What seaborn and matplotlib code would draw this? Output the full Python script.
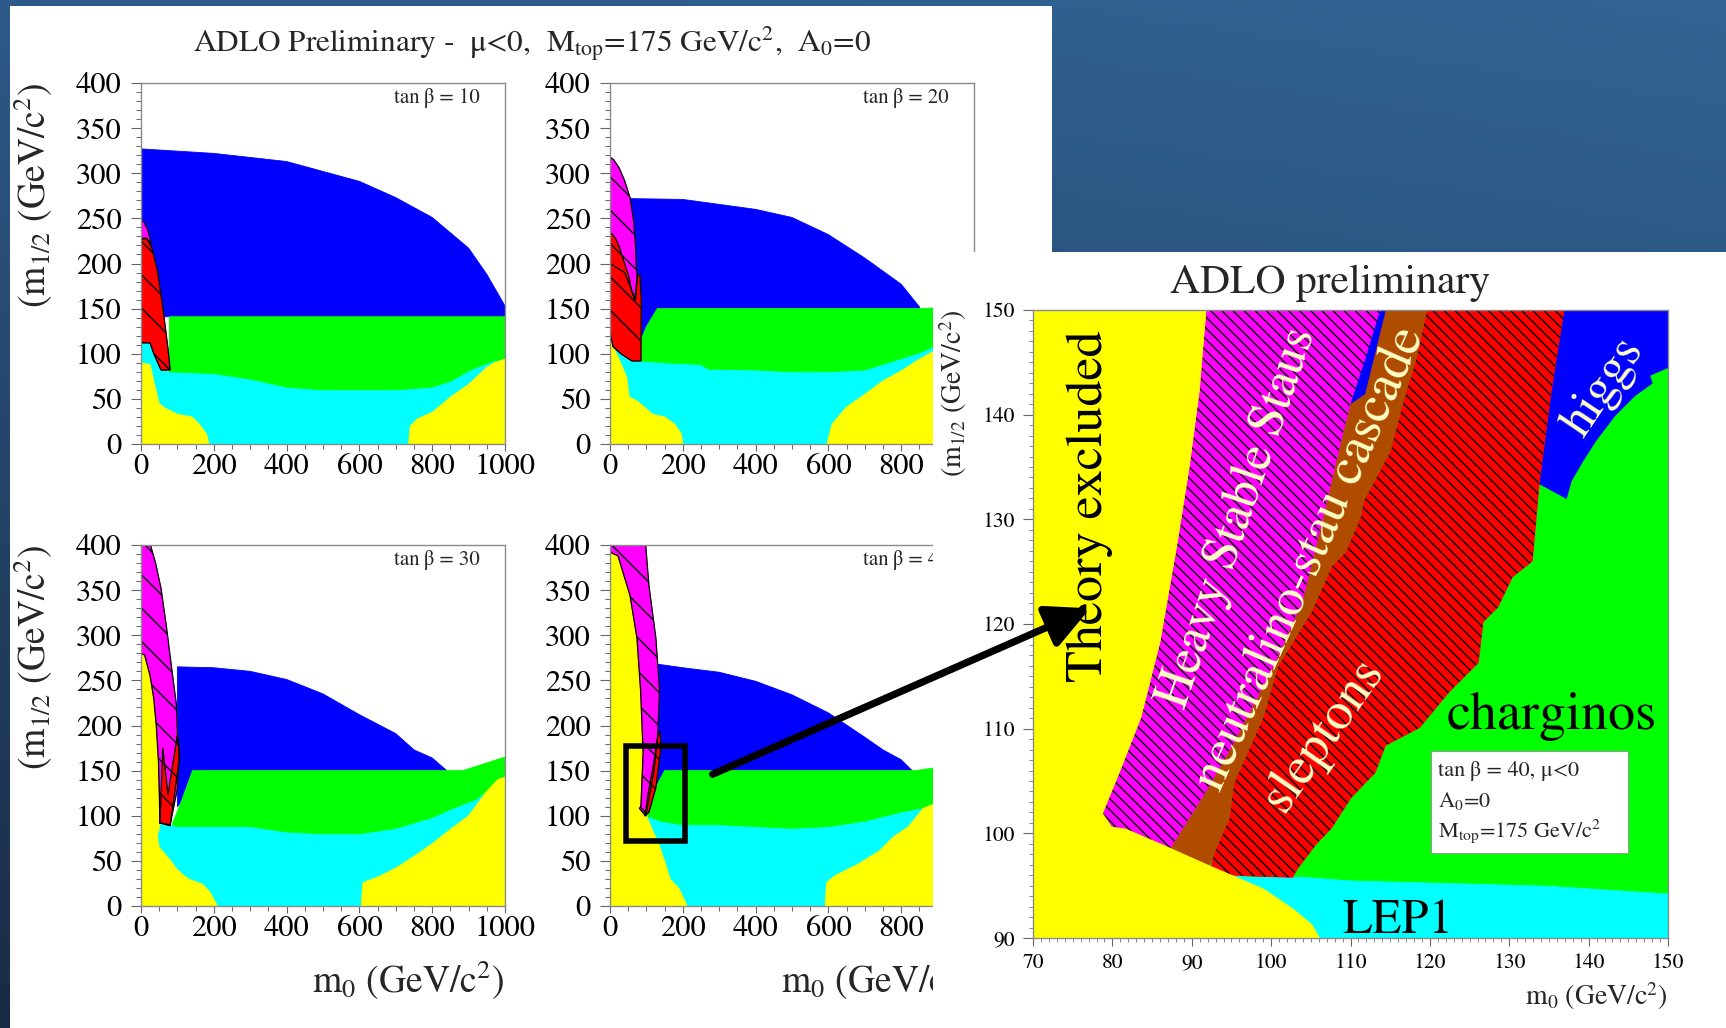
import numpy as np
import matplotlib
matplotlib.use("Agg")
import matplotlib.pyplot as plt
import seaborn as sns
from matplotlib.patches import Polygon, Rectangle, ConnectionPatch
from matplotlib.ticker import MultipleLocator

# ---------------------------------------------------------------------------
# Excluded regions in the (m0, m1/2) plane, GeV/c^2, one list per region
# ---------------------------------------------------------------------------
# tan(beta) = 10
t10_blue = [(0, 327), (200, 322), (400, 313), (600, 291), (700, 273), (800, 251),
            (900, 217), (950, 188), (1000, 153), (1000, 141), (0, 141)]
t10_green = [(78, 141), (1000, 141), (1000, 94), (968, 92), (900, 81), (853, 70),
             (800, 63), (700, 60), (600, 60), (500, 60), (400, 63), (300, 72),
             (200, 78), (78, 80)]
t10_cyan = [(0, 0), (1000, 0), (1000, 94), (968, 92), (900, 81), (853, 70), (800, 63),
            (700, 60), (600, 60), (500, 60), (400, 63), (300, 72), (200, 78),
            (80, 80), (55, 82), (35, 100), (25, 112), (0, 112)]
t10_yellow_lo = [(0, 0), (0, 90), (25, 88), (35, 70), (50, 45), (65, 40), (100, 33),
                 (140, 30), (160, 22), (180, 11), (187, 0)]
t10_yellow_hi = [(735, 0), (740, 20), (760, 28), (800, 35), (850, 52), (900, 66),
                 (950, 85), (970, 90), (1000, 94), (1000, 0)]
t10_staus = [(0, 226), (0, 247), (8, 246), (18, 238), (28, 222), (15, 228)]
t10_sleptons = [(0, 112), (0, 228), (15, 228), (30, 217), (45, 192), (60, 151),
                (75, 103), (80, 82), (55, 82), (35, 100), (25, 112)]

# tan(beta) = 20
t20_blue = [(40, 272), (200, 271), (400, 260), (500, 251), (600, 232), (700, 206),
            (800, 177), (850, 152), (850, 150), (130, 150), (100, 130), (88, 118),
            (70, 118)]
t20_green = [(85, 92), (88, 118), (100, 130), (130, 150), (850, 150), (1000, 153),
             (1000, 115), (890, 108), (850, 101), (780, 92), (700, 82), (600, 80),
             (500, 80), (400, 82), (270, 83), (250, 88), (150, 90)]
t20_cyan = [(0, 0), (1000, 0), (1000, 115), (890, 108), (850, 101), (780, 92),
            (700, 82), (600, 80), (500, 80), (400, 82), (270, 83), (250, 88),
            (150, 90), (85, 92), (55, 92), (30, 103), (8, 108), (0, 110)]
t20_yellow_lo = [(0, 0), (0, 125), (5, 125), (8, 108), (27, 92), (46, 74), (53, 52),
                 (74, 48), (117, 33), (150, 30), (178, 22), (196, 11), (200, 0)]
t20_yellow_hi = [(596, 0), (610, 22), (650, 41), (700, 55), (750, 70), (800, 81),
                 (850, 94), (890, 103), (1000, 112), (1000, 0)]
t20_staus = [(0, 225), (0, 318), (10, 315), (25, 306), (40, 292), (55, 273),
             (65, 247), (70, 221), (72, 195), (75, 185), (70, 160), (40, 190), (0, 200)]
t20_sleptons = [(0, 125), (0, 232), (5, 233), (15, 228), (25, 219), (35, 206),
                (50, 188), (60, 169), (68, 160), (75, 186), (82, 188), (86, 159),
                (85, 92), (60, 92), (30, 100), (8, 108)]

# tan(beta) = 30
t30_blue = [(100, 265), (200, 264), (300, 260), (400, 251), (500, 235), (600, 212),
            (700, 191), (750, 173), (800, 164), (840, 150), (140, 150), (110, 115),
            (100, 110)]
t30_green = [(85, 90), (110, 115), (140, 148), (142, 150), (884, 150), (1000, 165),
             (1000, 143), (920, 118), (900, 115), (850, 107), (800, 98), (700, 86),
             (600, 80), (500, 80), (400, 82), (350, 85), (300, 88), (100, 88)]
t30_cyan = [(0, 0), (1000, 0), (1000, 140), (920, 118), (900, 115), (850, 107),
            (800, 98), (700, 86), (600, 80), (500, 80), (400, 82), (350, 85),
            (300, 88), (100, 88), (60, 90), (0, 90)]
t30_yellow_lo = [(0, 0), (0, 280), (10, 278), (25, 255), (35, 230), (42, 200),
                 (48, 160), (50, 130), (52, 95), (50, 85), (45, 78), (50, 65),
                 (80, 51), (100, 40), (130, 30), (170, 24), (190, 15), (210, 0)]
t30_yellow_hi = [(605, 0), (610, 26), (650, 32), (700, 42), (750, 55), (800, 69),
                 (850, 85), (900, 100), (950, 127), (980, 140), (1000, 143), (1000, 0)]
t30_staus = [(0, 400), (26, 400), (40, 380), (55, 352), (70, 309), (85, 261),
             (97, 224), (100, 193), (105, 170), (100, 130), (80, 90), (52, 92),
             (52, 95), (50, 130), (48, 160), (42, 200), (35, 230), (25, 255),
             (10, 278), (0, 280)]
t30_sleptons = [(52, 92), (60, 175), (74, 123), (100, 190), (106, 165), (80, 89)]

# tan(beta) = 40
t40_blue = [(130, 268), (200, 264), (300, 259), (400, 249), (500, 234), (600, 214),
            (700, 187), (750, 173), (800, 162), (830, 150), (150, 150), (125, 131),
            (121, 150), (131, 189), (136, 239)]
t40_green = [(100, 100), (125, 131), (150, 150), (840, 150), (890, 153), (1000, 155),
             (1000, 125), (890, 113), (850, 108), (800, 104), (700, 94), (600, 88),
             (500, 86), (400, 88), (300, 90), (200, 90), (140, 94)]
t40_cyan = [(0, 0), (1000, 0), (1000, 125), (890, 113), (850, 108), (800, 104),
            (700, 94), (600, 88), (500, 86), (400, 88), (300, 90), (200, 90),
            (140, 94), (100, 100), (0, 100)]
t40_yellow_lo = [(0, 0), (0, 392), (22, 388), (55, 344), (74, 297), (84, 239),
                 (91, 170), (85, 111), (81, 108), (98, 100), (100, 100), (120, 81),
                 (130, 73), (150, 50), (165, 30), (190, 19), (212, 0)]
t40_yellow_hi = [(591, 0), (595, 26), (620, 34), (680, 46), (740, 61), (780, 77),
                 (820, 88), (860, 108), (890, 113), (1000, 125), (1000, 0)]
t40_staus = [(0, 400), (98, 400), (107, 355), (126, 297), (136, 239), (131, 189),
             (121, 150), (102, 108), (98, 100), (81, 108), (85, 111), (91, 170),
             (84, 239), (74, 297), (55, 344), (22, 388), (0, 392)]
t40_sleptons = [(96, 100), (105, 125), (120, 158), (132, 190), (137, 193),
                (140, 177), (126, 131), (107, 104)]
t40_zoom_box = (45, 72, 205, 177)          # m0_min, m12_min, m0_max, m12_max

# Zoomed view, tan(beta) = 40
z_charginos = [(70, 90), (150, 90), (150, 150), (70, 150)]
z_lep1 = [(92.8, 96.05), (97.7, 95.8), (103.9, 95.8), (110.06, 95.45), (122.4, 95.2),
          (134.7, 94.95), (150, 94.2), (150, 90), (92, 90)]
z_higgs = [(136.9, 150), (150, 150), (150, 144.5), (147.7, 143.75), (148.0, 143.0),
           (145.8, 141.8), (143.3, 139.9), (140.9, 137.5), (139.3, 135.6),
           (137.8, 133.65), (137.2, 132.0), (133.8, 133.4), (135.3, 142.3)]
z_sleptons = [(119.6, 150), (136.9, 150), (135.3, 142.3), (133.8, 133.65), (132.9, 126),
              (130.4, 124.5), (128.55, 121.6), (126.7, 120.2), (126.1, 116.3),
              (122.4, 113.5), (118.7, 110.1), (114.4, 108.4), (113.1, 105.8),
              (110.06, 103.4), (107.6, 100.5), (105.7, 99.0), (103.3, 96.6),
              (102.7, 95.8), (98.4, 95.9), (95.3, 96.0), (92.3, 96.4), (92.8, 98.1),
              (94.7, 101.4), (95.3, 104.8), (99.0, 111.1), (100.8, 115.9),
              (105.1, 121.2), (107.6, 125.5), (109.4, 126.9), (111.3, 130.3),
              (111.6, 131.7), (115.0, 136.5), (116.5, 140.9), (118.4, 145.7)]
z_cascade = [(113.8, 150), (119.6, 150), (118.4, 145.7), (116.5, 140.9), (115.0, 136.5),
             (111.6, 131.7), (111.3, 130.3), (109.4, 126.9), (107.6, 125.5),
             (105.1, 121.2), (100.8, 115.9), (99.0, 111.1), (95.3, 104.8),
             (94.7, 101.4), (92.8, 98.1), (92.2, 96.9), (91.3, 97.1), (87.3, 98.6),
             (91.6, 103.8), (95.3, 108.7), (100.2, 115.9), (103.9, 122.1),
             (106.4, 129.8), (108.8, 137.5), (110.06, 141.3), (112.2, 145.7)]
z_staus = [(91.8, 150), (113.8, 150), (112.2, 145.7), (110.06, 141.3), (108.8, 137.5),
           (106.4, 129.8), (103.9, 122.1), (100.2, 115.9), (95.3, 108.7),
           (91.6, 103.8), (87.3, 98.6), (79.2, 100.7), (78.75, 101.9), (81.1, 106.25),
           (83.6, 111.1), (86.0, 118.3), (88.2, 127.9), (89.7, 135.1), (90.95, 142.3)]
z_higgs_sliver = [(113.8, 150), (114.4, 150), (111.8, 142.0), (110.1, 141.1),
                  (112.0, 145.5)]
z_theory = [(70, 150), (91.8, 150), (90.95, 142.3), (89.7, 135.1), (88.2, 127.9),
            (86.0, 118.3), (83.6, 111.1), (81.1, 106.25), (78.75, 101.9), (79.9, 100.6),
            (81.7, 100.4), (86.6, 98.8), (91.6, 97.1), (95.3, 95.9), (99.0, 94.7),
            (102.7, 92.8), (105.1, 91.3), (106.1, 90), (70, 90)]

panel_tanb = ["10", "20", "30", "40"]
main_xticks = [0, 200, 400, 600, 800, 1000]
main_yticks = [0, 50, 100, 150, 200, 250, 300, 350, 400]
zoom_xticks = [70, 80, 90, 100, 110, 120, 130, 140, 150]
zoom_yticks = [90, 100, 110, 120, 130, 140, 150]

YELLOW, CYAN, GREEN, BLUE = "#ffff00", "#00ffff", "#00ff00", "#0000ff"
RED, MAGENTA, BROWN = "#ff0000", "#ff00ff", "#b04c00"
CREAM = "#ffffc4"

# ---------------------------------------------------------------------------
sns.set_theme(style="ticks", rc={"axes.edgecolor": "#888888", "hatch.linewidth": 1.0})
plt.rcParams["font.family"] = ["STIXGeneral", "DejaVu Sans"]
plt.rcParams["mathtext.fontset"] = "stix"

W, H = 1726, 1028
fig = plt.figure(figsize=(W / 100, H / 100), dpi=100)


def frac_rect(x0, y0, x1, y1):
    """Pixel box (top-left origin) -> figure-fraction rect."""
    return [x0 / W, 1 - y1 / H, (x1 - x0) / W, (y1 - y0) / H]


# slide background: blue gradient
bg = fig.add_axes([0, 0, 1, 1], zorder=-10)
tl, tr = np.array([0x2d, 0x5a, 0x88]), np.array([0x31, 0x64, 0x93])
bl, br = np.array([0x19, 0x2b, 0x45]), np.array([0x1f, 0x3d, 0x60])
u = np.linspace(0, 1, 200)[None, :, None]
v = np.linspace(0, 1, 200)[:, None, None]
grad = ((1 - v) * ((1 - u) * tl + u * tr) + v * ((1 - u) * bl + u * br)) / 255.0
bg.imshow(grad, aspect="auto", extent=[0, 1, 0, 1], origin="upper")
bg.set_axis_off()

fig.add_artist(Rectangle((10 / W, 0), 1042 / W, 1 - 6 / H, transform=fig.transFigure,
                         facecolor="white", edgecolor="none", zorder=-5))


def fill(ax, pts, color, hatch=None, outline=False):
    ax.add_patch(Polygon(pts, closed=True, facecolor=color, edgecolor=color, lw=0.6))
    if hatch:
        ax.add_patch(Polygon(pts, closed=True, facecolor="none", edgecolor="black",
                             lw=0, hatch=hatch))
    if outline:
        xs = [p[0] for p in pts] + [pts[0][0]]
        ys = [p[1] for p in pts] + [pts[0][1]]
        sns.lineplot(x=xs, y=ys, sort=False, estimator=None, color="black",
                     lw=0.9, ax=ax)


def main_panel(box, layers, tanb, ylabel=False, xlabel=False, covered_right=False):
    ax = fig.add_axes(frac_rect(*box))
    ax.set_facecolor("white")
    blue, green, cyan, ylo, yhi, staus, slep = layers
    fill(ax, blue, BLUE)
    fill(ax, cyan, CYAN)
    fill(ax, green, GREEN)
    fill(ax, ylo, YELLOW)
    fill(ax, yhi, YELLOW)
    fill(ax, staus, MAGENTA, hatch="\\", outline=True)
    fill(ax, slep, RED, hatch="\\", outline=True)
    ax.set_xlim(0, 1000)
    ax.set_ylim(0, 400)
    ax.set_xticks(main_xticks)
    # the right end of these panels lies under the zoomed view card
    ax.set_xticklabels([str(t) if not (covered_right and t > 900) else ""
                        for t in main_xticks])
    ax.set_yticks(main_yticks)
    ax.xaxis.set_minor_locator(MultipleLocator(50))
    ax.yaxis.set_minor_locator(MultipleLocator(10))
    ax.tick_params(axis="y", which="major", direction="out", length=7, width=0.8,
                   pad=7, labelsize=22, color="#666666", labelcolor="black")
    ax.tick_params(axis="x", which="major", direction="out", length=5, width=0.8,
                   pad=2, labelsize=22, color="#666666", labelcolor="black")
    ax.tick_params(which="minor", direction="out", length=3.5, width=0.7,
                   color="#666666")
    ax.set_xlabel("")
    ax.set_ylabel("")
    for s in ax.spines.values():
        s.set_color("#8a8a8a")
        s.set_linewidth(1.0)
    ax.text(0.93, 0.958, "tan\u2009β = " + tanb, transform=ax.transAxes,
            ha="right", va="center", fontsize=15)
    if ylabel:
        ax.text(-0.297, 1.0, r"(m$_{1/2}$ (GeV/c$^2$)", transform=ax.transAxes,
                rotation=90, ha="center", va="top", fontsize=27)
    if xlabel:
        ax.text(1.0, -0.205, r"m$_0$ (GeV/c$^2$)", transform=ax.transAxes,
                ha="right", va="center", fontsize=27)
    return ax


ax1 = main_panel((141, 83, 505, 444),
                 (t10_blue, t10_green, t10_cyan, t10_yellow_lo, t10_yellow_hi,
                  t10_staus, t10_sleptons), panel_tanb[0], ylabel=True)
ax2 = main_panel((610, 83, 974, 444),
                 (t20_blue, t20_green, t20_cyan, t20_yellow_lo, t20_yellow_hi,
                  t20_staus, t20_sleptons), panel_tanb[1], covered_right=True)
ax3 = main_panel((141, 545, 505, 906),
                 (t30_blue, t30_green, t30_cyan, t30_yellow_lo, t30_yellow_hi,
                  t30_staus, t30_sleptons), panel_tanb[2], ylabel=True, xlabel=True)
ax4 = main_panel((610, 545, 974, 906),
                 (t40_blue, t40_green, t40_cyan, t40_yellow_lo, t40_yellow_hi,
                  t40_staus, t40_sleptons), panel_tanb[3], xlabel=True,
                 covered_right=True)

bx0, by0, bx1, by1 = t40_zoom_box
ax4.add_patch(Rectangle((bx0, by0), bx1 - bx0, by1 - by0, facecolor="none",
                        edgecolor="black", lw=4.0, zorder=5))

fig.text(532 / W, 1 - 44 / H,
         r"ADLO Preliminary -  μ<0,  M$_{\rm top}$=175 GeV/c$^2$,  A$_0$=0",
         ha="center", va="center", fontsize=22.5)

# white card holding the zoomed view
fig.add_artist(Rectangle((933 / W, 0), 1 - 933 / W, 1 - 252 / H,
                         transform=fig.transFigure, facecolor="white",
                         edgecolor="none", zorder=3))

az = fig.add_axes(frac_rect(1033, 310, 1668, 938), zorder=4)
fill(az, z_charginos, GREEN)
fill(az, z_lep1, CYAN)
fill(az, z_higgs, BLUE)
fill(az, z_sleptons, RED, hatch="\\" * 3)
fill(az, z_cascade, BROWN)
fill(az, z_staus, MAGENTA, hatch="\\" * 3)
fill(az, z_higgs_sliver, BLUE)
fill(az, z_theory, YELLOW)
az.set_xlim(70, 150)
az.set_ylim(90, 150)
az.set_xticks(zoom_xticks)
az.set_yticks(zoom_yticks)
az.xaxis.set_minor_locator(MultipleLocator(1))
az.yaxis.set_minor_locator(MultipleLocator(1))
az.tick_params(axis="y", which="major", direction="out", length=7, width=0.8, pad=6,
               labelsize=15.5, color="#666666", labelcolor="black")
az.tick_params(axis="x", which="major", direction="out", length=6, width=0.8, pad=5,
               labelsize=15.5, color="#666666", labelcolor="black")
az.tick_params(which="minor", direction="out", length=3, width=0.6, color="#777777")
for s in az.spines.values():
    s.set_color("#8a8a8a")
    s.set_linewidth(1.0)

txt_kw = dict(ha="center", va="center", rotation_mode="anchor")
az.text(77.1, 131.25, "Theory excluded", rotation=90, fontsize=37.5, color="black",
        **txt_kw)
az.text(95.8, 130.2, "Heavy Stable Staus", rotation=71, fontsize=37, color=CREAM,
        **txt_kw)
az.text(104.9, 126.2, "neutralino-stau cascade", rotation=66, fontsize=38.5,
        color=CREAM, **txt_kw)
az.text(106.6, 109.4, "sleptons", rotation=55, fontsize=38.5, color=CREAM, **txt_kw)
az.text(141.9, 142.6, "higgs", rotation=56, fontsize=36, color=CREAM, **txt_kw)
az.text(135.4, 111.2, "charginos", fontsize=39, color="black", **txt_kw)
az.text(115.9, 91.6, "LEP1", fontsize=35, color="black", **txt_kw)

az.add_patch(Rectangle((120.1, 98.1), 24.8, 9.8, facecolor="white",
                       edgecolor="#9a9a9a", lw=0.8, zorder=3))
az.text(121.0, 106.0, "tan\u2009β = 40, μ<0", fontsize=16, ha="left", va="center",
        zorder=4)
az.text(121.0, 103.1, r"A$_0$=0", fontsize=16, ha="left", va="center", zorder=4)
az.text(121.0, 100.2, r"M$_{\rm top}$=175 GeV/c$^2$", fontsize=16, ha="left",
        va="center", zorder=4)

az.text(-0.126, 1.0, r"(m$_{1/2}$ (GeV/c$^2$)", transform=az.transAxes, rotation=90,
        ha="center", va="top", fontsize=20)
az.text(1.0, -0.092, r"m$_0$ (GeV/c$^2$)", transform=az.transAxes, ha="right",
        va="center", fontsize=20)
fig.text(1330 / W, 1 - 283 / H, "ADLO preliminary", ha="center", va="center",
         fontsize=30)

# arrow from the boxed area to the zoomed view
arrow = ConnectionPatch(xyA=(282, 146), coordsA=ax4.transData,
                        xyB=(77.2, 121.5), coordsB=az.transData,
                        arrowstyle="-|>,head_length=1.2,head_width=0.6",
                        mutation_scale=22, lw=5.2, color="black",
                        shrinkA=0, shrinkB=0, zorder=20)
fig.add_artist(arrow)

fig.savefig("out.png", dpi=100)
